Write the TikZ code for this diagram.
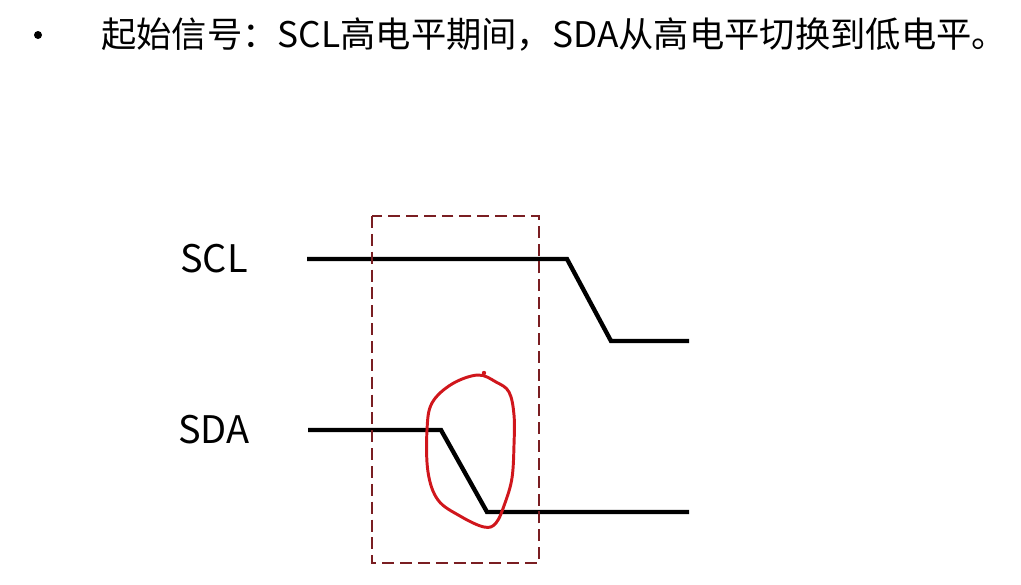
\documentclass[tikz,border=0pt]{standalone}
\usepackage{fontspec}
\setmainfont{Noto Sans CJK SC}
\usetikzlibrary{positioning}

\definecolor{winred}{HTML}{7A1E22}
\definecolor{penred}{HTML}{D0161C}

\begin{document}
\begin{tikzpicture}[
    x=0.025cm, y=-0.025cm,
    heading/.style={anchor=west, inner sep=0pt, font=\fontsize{25.1}{30}\selectfont},
    signame/.style={inner sep=0pt, font=\fontsize{27}{30}\selectfont},
    wave/.style={line width=3.1pt, line join=miter},
    window/.style={draw=winred, line width=1.4pt, dash pattern=on 8.5pt off 4.2pt},
    scribble/.style={draw=penred, line width=2.1pt}
]
\useasboundingbox (0,0) rectangle (1021,585);

% Heading
\fill (38,35) circle (4) coordinate (bullet);
\node[heading] (title) at (101,35) {起始信号：SCL高电平期间，SDA从高电平切换到低电平。};

% Signal names
\node[signame] (scl) at (214,259) {SCL};
\node[signame] (sda) at (214,430) {SDA};

% Waveform points
\coordinate (scl start) at (307,259);
\coordinate (scl fall) at (567,259);
\coordinate (scl low) at (611,341);
\coordinate (scl end) at (689,341);
\coordinate (sda start) at (308,430);
\coordinate (sda fall) at (441,430);
\coordinate (sda low) at (487,512);
\coordinate (sda end) at (689,512);

% Waveforms
\draw[wave] (scl start) -- (scl fall) -- (scl low) -- (scl end);
\draw[wave] (sda start) -- (sda fall) -- (sda low) -- (sda end);

% Start condition window
\draw[window] (372,216) rectangle (539,563);

% Hand drawn loop
\draw[scribble] plot[smooth cycle, tension=0.6] coordinates {(478,375) (496,382) (509,392) (514,415) (514,445) (512,478) (505,503) (496,523) (484,527) (460,516) (438,500) (428,472) (427,430) (432,403) (452,384)};
\fill[penred] (484,373) circle (2.2);

\end{tikzpicture}
\end{document}
